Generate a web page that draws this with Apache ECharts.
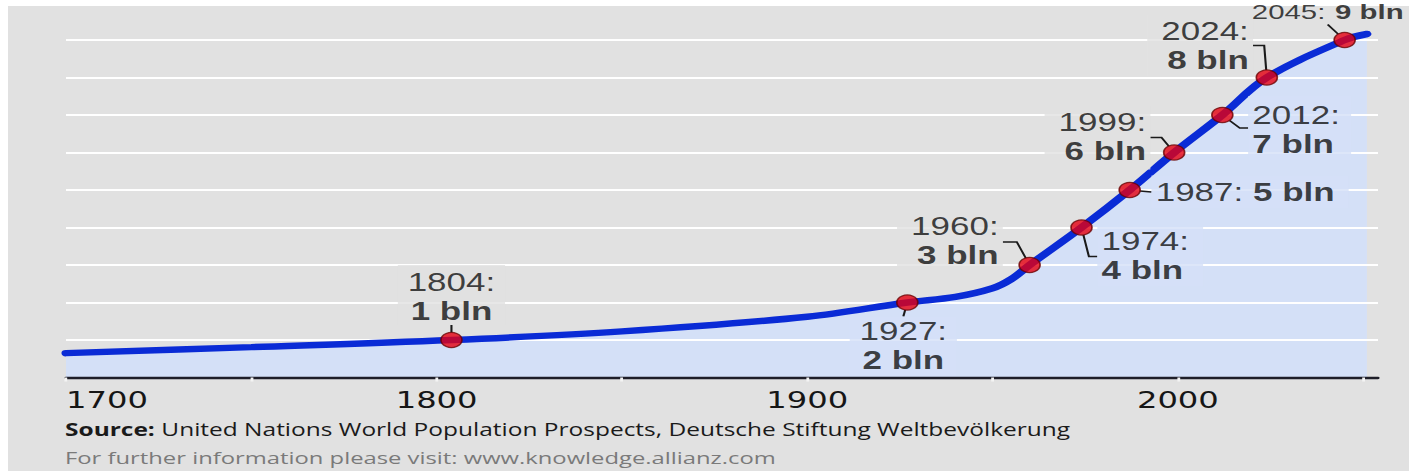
<!DOCTYPE html>
<html>
<head>
<meta charset="utf-8">
<script src="https://cdn.jsdelivr.net/npm/echarts@6/dist/echarts.min.js"></script>
<style>
html,body{margin:0;padding:0;background:#fff;overflow:hidden;}
#wrap{position:relative;width:1409px;height:471px;overflow:hidden;background:#fff;}
#panel{position:absolute;left:8px;top:6px;right:0;bottom:0;background:#e1e1e1;}
#chart{position:absolute;left:0;top:0;height:471px;transform-origin:0 0;}
</style>
</head>
<body>
<div id="wrap"><div id="panel"></div><div id="chart"></div></div>
<script>
// ---- data ----
const curveYears      = [1700, 1750, 1804, 1850, 1900, 1927, 1940, 1950, 1955, 1960, 1974, 1987, 1999, 2012, 2024, 2045, 2051];
const curveBillions   = [0.65, 0.81, 1.0,  1.23, 1.62, 2.0,  2.15, 2.38, 2.62, 3.0,  4.0,  5.0,  6.0,  7.0,  8.0,  9.0,  9.16];
const milestoneYears  = [1804, 1927, 1960, 1974, 1987, 1999, 2012, 2024, 2045];
const milestoneValues = [1, 2, 3, 4, 5, 6, 7, 8, 9];
const gridValues      = [1, 2, 3, 4, 5, 6, 7, 8, 9];
const xTickLabels     = [1700, 1800, 1900, 2000];
const sourceLabel     = 'Source:';
const sourceText      = 'United Nations World Population Prospects, Deutsche Stiftung Weltbevölkerung';
const infoText        = 'For further information please visit: www.knowledge.allianz.com';

// ---- layout / style ----
const S = 1.4;               // horizontal stretch of the original graphic
const W = 1409 / S;
const GRAY = '#e1e1e1', FILL = '#d4e0f7', BLUE = '#0a2bd6', INK = '#111111';
const ANN_FONT = '"Liberation Sans", Arial, sans-serif';
const ANN_SIZE = 25, ANN_LH = 29;

// label anchors relative to marker centre (screen px), padding in chart px
const labelSpec = [
  {tx: 0,   ty: -15, align: 'center', va: 'bottom', pad: [2, 7, 0, 7],  bg: GRAY, len2: 0},
  {tx: -4,  ty: 14,  align: 'center', va: 'top',    pad: [0, 7, 2, 7],  bg: FILL, len2: 0},
  {tx: -31, ty: -54, align: 'right',  va: 'top',    pad: [2, 3, 6, 10], bg: GRAY, len2: 10},
  {tx: 20,  ty: -1,  align: 'left',   va: 'top',    pad: [0, 10, 2, 3], bg: FILL, len2: 6},
  {tx: 26,  ty: 2,   align: 'left',   va: 'middle', pad: [2, 10, 2, 3], bg: FILL, len2: 0, one: true},
  {tx: -28, ty: -45, align: 'right',  va: 'top',    pad: [2, 3, 4, 10], bg: GRAY, len2: 8},
  {tx: 30,  ty: -15, align: 'left',   va: 'top',    pad: [4, 8, 2, 3],  bg: FILL, len2: 6},
  {tx: -18, ty: -61, align: 'right',  va: 'top',    pad: [2, 3, 2, 10], bg: GRAY, len2: 8},
  {tx: 59,  ty: -28, align: 'right',  va: 'middle', pad: [0, 0, 0, 0],  bg: 'transparent', len2: 0, one: true, size: 21}
];

const el = document.getElementById('chart');
el.style.width = W + 'px';
el.style.transform = 'scaleX(' + S + ')';
const chart = echarts.init(el, null, {renderer: 'svg', width: W, height: 471});

const curveData = curveYears.map((y, i) => [y, curveBillions[i]]);
const milestoneData = milestoneYears.map((y, i) => {
  const s = labelSpec[i];
  const fs = s.size || ANN_SIZE;
  return {
    value: [y, milestoneValues[i]],
    label: {
      backgroundColor: s.bg, padding: s.pad,
      rich: {
        a: {fontFamily: ANN_FONT, fontSize: fs, lineHeight: s.size ? fs + 3 : ANN_LH, color: INK},
        b: {fontFamily: ANN_FONT, fontSize: fs, lineHeight: s.size ? fs + 3 : ANN_LH, color: INK, fontWeight: 'bold'}
      }
    },
    labelLine: {length2: s.len2}
  };
});

chart.setOption({
  animation: false,
  grid: {left: 66 / S, right: (1409 - 1378) / S, top: 2.5, bottom: 471 - 377.5, containLabel: false, outerBoundsMode: 'none'},
  xAxis: {
    type: 'value', min: 1700, max: 2054, interval: 50, z: 8,
    splitLine: {show: false},
    axisLine: {show: true, onZero: false, lineStyle: {color: '#1e1e28', width: 2.3}},
    axisTick: {show: true, length: 4, lineStyle: {color: '#f4f4f4', width: 2}},
    axisLabel: {
      formatter: v => xTickLabels.includes(v) ? String(v) : '',
      margin: 11, fontFamily: '"DejaVu Sans", sans-serif', fontSize: 23, color: '#161616',
      alignMinLabel: 'left', showMaxLabel: false
    }
  },
  yAxis: {type: 'value', min: 0, max: 10, show: false},
  series: [
    {
      name: 'fill', type: 'line', data: curveData, z: 1, silent: true,
      smooth: 0.35, showSymbol: false,
      lineStyle: {width: 0, opacity: 0},
      areaStyle: {color: FILL, opacity: 1},
      markLine: {
        silent: true, symbol: 'none', z: 5,
        label: {show: false},
        lineStyle: {color: '#ffffff', width: 2, type: 'solid'},
        data: gridValues.map(v => ({yAxis: v}))
      }
    },
    {
      name: 'population', type: 'line', data: curveData, z: 6, silent: true,
      smooth: 0.35, showSymbol: false,
      lineStyle: {color: BLUE, width: 6.5, cap: 'round'}
    },
    {
      name: 'milestones', type: 'scatter', data: milestoneData, z: 7,
      symbol: 'circle', symbolSize: 15,
      itemStyle: {color: '#e50010', borderColor: '#6a0000', borderWidth: 1.2},
      label: {
        show: true,
        fontFamily: ANN_FONT, fontSize: ANN_SIZE, color: INK,
        formatter: p => {
          const i = p.dataIndex;
          const a = '{a|' + milestoneYears[i] + ':}';
          const b = '{b|' + milestoneValues[i] + ' bln}';
          return labelSpec[i].one ? a + ' ' + b : a + '\n' + b;
        }
      },
      labelLine: {show: true, lineStyle: {color: '#1a1a1a', width: 1.5}},
      labelLayout: p => {
        const s = labelSpec[p.dataIndex];
        const cx = p.rect.x + p.rect.width / 2;
        const cy = p.rect.y + p.rect.height / 2;
        let x = cx + s.tx / S, y = cy + s.ty;
        const [pt, pr, pb, pl] = s.pad;
        if (s.align === 'left') x -= pl; else if (s.align === 'right') x += pr; else x += (pr - pl) / 2;
        if (s.va === 'top') y -= pt; else if (s.va === 'bottom') y += pb; else y += (pb - pt) / 2;
        return {x: x, y: y, align: s.align, verticalAlign: s.va};
      }
    }
  ],
  graphic: [
    {
      type: 'text', x: 65 / S, y: 429, silent: true,
      style: {
        text: '{s|' + sourceLabel + '} ' + sourceText,
        fontFamily: '"Open Sans", sans-serif', fontSize: 17.5, fill: '#1a1a1a',
        verticalAlign: 'middle',
        rich: {s: {fontFamily: '"Open Sans", sans-serif', fontSize: 17.5, fontWeight: 'bold', fill: '#1a1a1a'}}
      }
    },
    {
      type: 'text', x: 65 / S, y: 457, silent: true,
      style: {
        text: infoText,
        fontFamily: '"Open Sans", sans-serif', fontSize: 17, fill: '#7a7a7a',
        verticalAlign: 'middle'
      }
    }
  ]
});
</script>
</body>
</html>
